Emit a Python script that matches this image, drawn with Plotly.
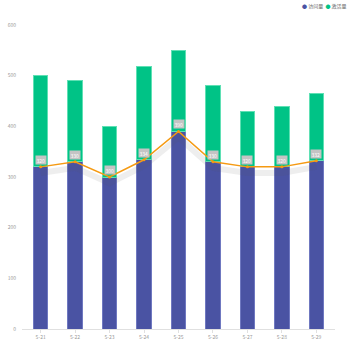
import plotly.graph_objects as go

dates = ["5-21", "5-22", "5-23", "5-24", "5-25", "5-26", "5-27", "5-28", "5-29"]
visits = [320, 330, 300, 334, 390, 330, 320, 320, 332]
totals = [500, 490, 400, 518, 550, 480, 430, 440, 465]
activations = [t - v for t, v in zip(totals, visits)]
y_ticks = [0, 100, 200, 300, 400, 500, 600]
series_names = ["访问量", "激活量"]

BLUE = "#4a53a3"
GREEN = "#00c386"
ORANGE = "#f59a12"
FONT = "Noto Sans CJK SC"

fig = go.Figure()

fig.add_trace(go.Bar(
    x=dates, y=visits, name=series_names[0], showlegend=False,
    marker=dict(color=BLUE, line=dict(color="#6f78c0", width=1)),
    width=0.42, hoverinfo="skip",
))
fig.add_trace(go.Bar(
    x=dates, y=activations, name=series_names[1], showlegend=False,
    marker=dict(color=GREEN, line=dict(color="#5fe0b4", width=1)),
    width=0.42, hoverinfo="skip",
))

# soft shadow under the trend line, on a slightly shifted axis
fig.add_trace(go.Scatter(
    x=dates, y=visits, mode="lines", showlegend=False, yaxis="y2",
    line=dict(color="rgba(90,90,90,0.10)", width=6),
    hoverinfo="skip",
))
fig.add_trace(go.Scatter(
    x=dates, y=visits, mode="lines+markers", showlegend=False,
    line=dict(color=ORANGE, width=1.5),
    marker=dict(color=ORANGE, size=3),
    hoverinfo="skip",
))

for d, v in zip(dates, visits):
    fig.add_annotation(
        x=d, y=v, text=str(v), showarrow=False, yshift=7,
        font=dict(size=5, color="#ffffff", family=FONT),
        bgcolor="#c4c4c4", borderpad=0.5,
    )

# compact legend in the top-right corner
legend_text = "  ".join(
    f"<span style='color:{c}'>●</span> {n}"
    for n, c in zip(series_names, [BLUE, GREEN])
)
fig.add_annotation(
    xref="paper", yref="paper", x=1.045, y=1.062,
    xanchor="right", yanchor="middle", showarrow=False,
    text=legend_text, font=dict(size=5, color="#666666", family=FONT),
)

fig.update_layout(
    width=350, height=350,
    margin=dict(l=22, r=15, t=25, b=21, autoexpand=False),
    barmode="stack", bargap=0.58, showlegend=False,
    plot_bgcolor="white", paper_bgcolor="white",
    font=dict(family=FONT, size=5, color="#999999"),
    xaxis=dict(
        showgrid=False, showline=True, linecolor="#e0e0e0", linewidth=1,
        ticks="outside", ticklen=3, tickcolor="#e0e0e0",
        tickfont=dict(size=5, color="#999999"),
    ),
    yaxis=dict(
        range=[0, 600], tickvals=y_ticks, showgrid=False, zeroline=False,
        showline=False, tickfont=dict(size=5, color="#999999"),
        ticks="", ticklabelstandoff=5,
    ),
    yaxis2=dict(
        range=[12, 612], overlaying="y", visible=False,
    ),
)

fig.write_html("out.html")
